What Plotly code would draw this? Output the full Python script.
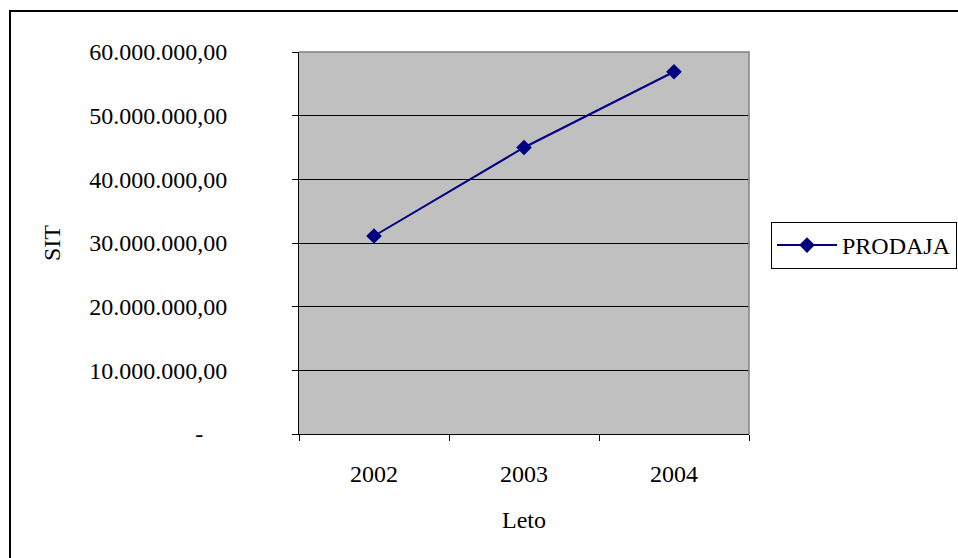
import plotly.graph_objects as go

# Sales by year
years = ["2002", "2003", "2004"]
sales = [31_100_000, 45_000_000, 56_900_000]

y_ticks = [0, 10_000_000, 20_000_000, 30_000_000, 40_000_000, 50_000_000, 60_000_000]
y_tick_labels = ["-\u2007\u2007", "10.000.000,00", "20.000.000,00", "30.000.000,00",
                 "40.000.000,00", "50.000.000,00", "60.000.000,00"]

W, H = 958, 558
L, R, T, B = 299, 209, 52, 124
pw, ph = W - L - R, H - T - B

def px_x(x):
    return (x - L) / pw

def px_y(y):
    return (H - B - y) / ph

font = dict(family="Times New Roman", size=24, color="black")

fig = go.Figure()
fig.add_trace(go.Scatter(
    x=years, y=sales, name="PRODAJA", mode="lines+markers",
    line=dict(color="#000080", width=2),
    marker=dict(symbol="diamond", size=12, color="#000080"),
))

fig.update_layout(
    width=W, height=H,
    margin=dict(l=L, r=R, t=T, b=B, autoexpand=False),
    paper_bgcolor="white", plot_bgcolor="#C0C0C0",
    font=font,
    showlegend=True,
    legend=dict(x=px_x(771), y=px_y(222), xanchor="left", yanchor="top",
                bordercolor="black", borderwidth=1, bgcolor="white",
                font=font, itemwidth=60, tracegroupgap=0),
    xaxis=dict(type="category", range=[-0.5, 2.5], tickson="boundaries",
               ticks="outside", ticklen=6, tickcolor="black", tickwidth=1,
               showline=True, linecolor="black", linewidth=1, showgrid=False,
               ticklabelstandoff=18, automargin=False,
               title=dict(text="Leto", font=font, standoff=25)),
    yaxis=dict(range=[0, 60_000_000], tickvals=y_ticks, ticktext=y_tick_labels,
               ticks="outside", ticklen=6, tickcolor="black", tickwidth=1,
               showline=True, linecolor="black", linewidth=1,
               showgrid=True, gridcolor="black", gridwidth=1, zeroline=False,
               ticklabelstandoff=60, automargin=False,
               title=dict(text="SIT", font=font, standoff=21)),
    shapes=[
        # plot-area border on the top and right edges
        dict(type="path", xref="paper", yref="paper",
             path="M 0,1 L 1,1 L 1,0", line=dict(color="#808080", width=1.5),
             layer="above"),
        # outer chart frame
        dict(type="rect", xref="paper", yref="paper",
             x0=px_x(10), x1=px_x(975), y0=px_y(575), y1=px_y(11),
             line=dict(color="black", width=2), layer="above"),
    ],
)

fig.write_html("out.html")
